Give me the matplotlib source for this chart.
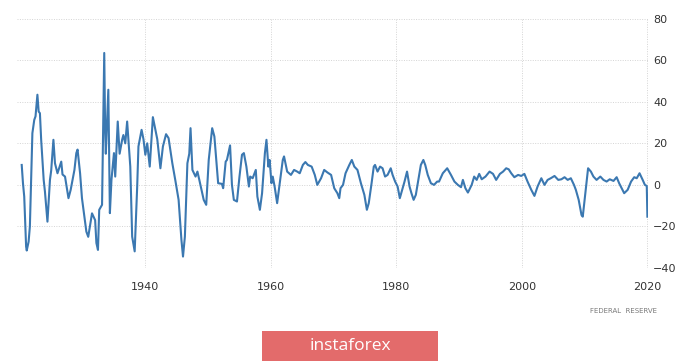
import matplotlib
matplotlib.use("Agg")

import matplotlib.pyplot as plt
from matplotlib.patches import Rectangle


# ============================================================
# DATA  (industrial production, % change y/y)
# ============================================================

years = [
    1920.3, 1920.5, 1920.7, 1921.0, 1921.1, 1921.4, 1921.6, 1922.0, 1922.3, 1922.5,
    1922.8, 1923.0, 1923.2, 1923.4, 1923.8, 1924.0, 1924.4, 1924.8, 1925.0, 1925.35,
    1925.6, 1926.0, 1926.6, 1926.8, 1927.2, 1927.75, 1928.1, 1928.7, 1929.0, 1929.2,
    1929.6, 1929.9, 1930.6, 1930.9, 1931.5, 1932.0, 1932.2, 1932.45, 1932.65, 1933.1,
    1933.45, 1933.6, 1933.7, 1934.1, 1934.35, 1934.6, 1935.0, 1935.2, 1935.6, 1935.9,
    1936.3, 1936.5, 1936.8, 1937.1, 1937.3, 1937.6, 1937.9, 1938.3, 1938.7, 1938.9,
    1939.4, 1939.7, 1940.0, 1940.3, 1940.7, 1941.2, 1941.5, 1941.9, 1942.4, 1942.8,
    1943.3, 1943.7, 1944.3, 1944.8, 1945.3, 1945.75, 1946.0, 1946.3, 1946.7, 1947.0,
    1947.2, 1947.5, 1948.0, 1948.3, 1948.6, 1949.3, 1949.7, 1950.1, 1950.65, 1951.0,
    1951.6, 1952.2, 1952.4, 1952.8, 1953.0, 1953.5, 1953.8, 1954.1, 1954.6, 1955.0,
    1955.4, 1955.7, 1956.1, 1956.5, 1956.7, 1957.1, 1957.6, 1957.85, 1958.25, 1958.6,
    1959.05, 1959.3, 1959.6, 1959.8, 1960.1, 1960.3, 1960.6, 1961.0, 1961.55, 1961.9,
    1962.1, 1962.6, 1963.2, 1963.7, 1964.2, 1964.6, 1965.1, 1965.5, 1965.9, 1966.5,
    1967.0, 1967.4, 1968.0, 1968.5, 1969.0, 1969.6, 1970.1, 1970.6, 1970.9, 1971.1,
    1971.5, 1971.9, 1972.5, 1972.9, 1973.3, 1973.8, 1974.35, 1974.9, 1975.3, 1975.6,
    1976.05, 1976.4, 1976.6, 1977.0, 1977.4, 1977.8, 1978.2, 1978.6, 1979.1, 1979.4,
    1979.8, 1980.2, 1980.55, 1981.0, 1981.3, 1981.7, 1982.1, 1982.4, 1982.75, 1983.1,
    1983.5, 1983.9, 1984.3, 1984.6, 1985.0, 1985.5, 1986.0, 1986.5, 1986.8, 1987.4,
    1988.1, 1988.7, 1989.25, 1989.8, 1990.3, 1990.6, 1991.0, 1991.4, 1992.0, 1992.4,
    1992.8, 1993.2, 1993.6, 1994.2, 1994.85, 1995.4, 1995.9, 1996.5, 1997.0, 1997.5,
    1997.9, 1998.3, 1998.8, 1999.4, 1999.9, 2000.4, 2000.9, 2001.5, 2002.0, 2002.5,
    2003.1, 2003.6, 2004.1, 2004.6, 2005.2, 2005.8, 2006.3, 2006.8, 2007.3, 2007.8,
    2008.3, 2008.6, 2009.05, 2009.5, 2009.7, 2010.0, 2010.3, 2010.55, 2011.0, 2011.4,
    2011.9, 2012.5, 2013.0, 2013.5, 2014.0, 2014.6, 2015.1, 2015.5, 2015.9, 2016.3,
    2016.85, 2017.4, 2017.9, 2018.3, 2018.75, 2019.25, 2019.6, 2019.9, 2020.0,
]

values = [
    9.6, 0.8, -5.6, -29.7, -31.6, -27.3, -20.0, 24.9, 31.3, 33.0,
    43.4, 35.3, 34.5, 21.7, 2.4, -3.2, -17.7, 2.4, 7.0, 21.7,
    10.4, 5.6, 11.2, 5.0, 4.0, -6.4, -2.4, 7.2, 15.3, 17.0,
    5.6, -6.4, -22.5, -25.0, -13.7, -17.0, -28.0, -31.3, -12.0, -9.6,
    63.5, 25.0, 15.0, 45.8, -13.6, 2.4, 15.3, 4.0, 30.5, 15.0,
    21.7, 24.0, 20.0, 30.5, 21.7, 8.8, -24.9, -32.0, -0.8, 18.5,
    26.5, 22.0, 14.5, 20.0, 8.8, 32.6, 28.0, 22.0, 8.0, 18.5,
    24.4, 22.5, 10.4, 1.8, -7.2, -26.5, -34.5, -24.9, 10.4, 15.0,
    27.3, 7.2, 4.0, 6.4, 2.4, -7.2, -9.6, 12.0, 27.3, 23.3,
    0.8, 0.5, -1.6, 11.2, 12.0, 19.0, 0.0, -7.2, -8.0, 4.0,
    14.5, 15.3, 8.8, -0.8, 4.0, 3.2, 7.2, -5.6, -12.0, -4.0,
    15.3, 21.7, 8.8, 12.0, 0.8, 4.0, -0.8, -8.8, 4.0, 12.0,
    13.7, 6.4, 4.8, 7.2, 6.4, 5.6, 9.6, 11.0, 9.6, 8.8,
    4.8, 0.0, 3.2, 7.2, 6.0, 4.8, -1.6, -4.0, -6.4, -1.6,
    0.0, 5.6, 9.6, 12.0, 8.8, 7.2, 0.8, -4.8, -12.0, -8.8,
    0.8, 8.8, 9.6, 6.4, 8.8, 8.0, 4.0, 4.8, 8.0, 4.8,
    1.6, -0.8, -6.4, -1.6, 1.6, 6.4, -0.8, -4.0, -7.2, -4.8,
    2.4, 9.6, 12.0, 9.6, 4.8, 0.8, 0.0, 1.6, 1.6, 5.6,
    8.0, 4.8, 1.6, 0.0, -1.1, 2.4, -1.6, -3.7, 0.0, 4.0,
    2.4, 5.3, 2.7, 4.0, 6.4, 5.3, 2.4, 5.3, 6.4, 8.0,
    7.5, 5.6, 3.7, 4.8, 4.3, 5.3, 1.6, -2.4, -5.3, -0.8,
    3.2, 0.0, 2.4, 3.2, 4.3, 2.4, 2.7, 3.7, 2.4, 3.2,
    0.0, -2.4, -7.2, -14.5, -15.3, -7.2, 1.0, 8.0, 6.4, 4.0,
    2.4, 4.0, 2.4, 1.6, 2.7, 1.9, 3.7, 0.8, -1.6, -4.0,
    -2.4, 1.6, 3.7, 3.2, 5.6, 2.4, 0.0, -0.5, -15.3,
]

x_ticks = [1940, 1960, 1980, 2000, 2020]
y_ticks = [-40, -20, 0, 20, 40, 60, 80]

source_label = "FEDERAL  RESERVE"
brand_label = "instaforex"


# ============================================================
# FIGURE
# ============================================================

fig = plt.figure(figsize=(7.0, 3.62), dpi=100)

ax = fig.add_axes([0.0243, 0.2597, 0.9010, 0.6887])

ax.plot(
    years,
    values,
    color="#3b78b1",
    linewidth=1.5,
    solid_joinstyle="round",
    zorder=3
)

ax.set_xlim(1919.55, 2020.05)
ax.set_ylim(-40, 80)

ax.set_xticks(x_ticks)
ax.set_yticks(y_ticks)

ax.grid(
    True,
    color="#d4d4d4",
    linestyle=(0, (1, 1.5)),
    linewidth=0.7,
    zorder=0
)

for side in ["top", "bottom", "left", "right"]:
    ax.spines[side].set_visible(False)

ax.yaxis.tick_right()

ax.tick_params(
    axis="both",
    length=0,
    labelsize=8,
    labelcolor="#333333"
)
ax.tick_params(axis="x", pad=10)
ax.tick_params(axis="y", pad=4)


# ============================================================
# FOOTER
# ============================================================

fig.text(
    0.9386,
    1 - 311 / 362,
    source_label,
    ha="right",
    va="center",
    fontsize=5,
    color="#7a7a7a"
)

banner = Rectangle(
    (261.7 / 700, 1 - 360.7 / 362),
    (438.3 - 261.7) / 700,
    (360.7 - 331) / 362,
    transform=fig.transFigure,
    facecolor="#e36b6b",
    edgecolor="none"
)
fig.patches.append(banner)

fig.text(
    350 / 700,
    1 - 346 / 362,
    brand_label,
    ha="center",
    va="center",
    fontsize=12.5,
    family="Open Sans",
    color="white"
)


# ============================================================
# SAVE
# ============================================================

fig.savefig("out.png", dpi=100)
